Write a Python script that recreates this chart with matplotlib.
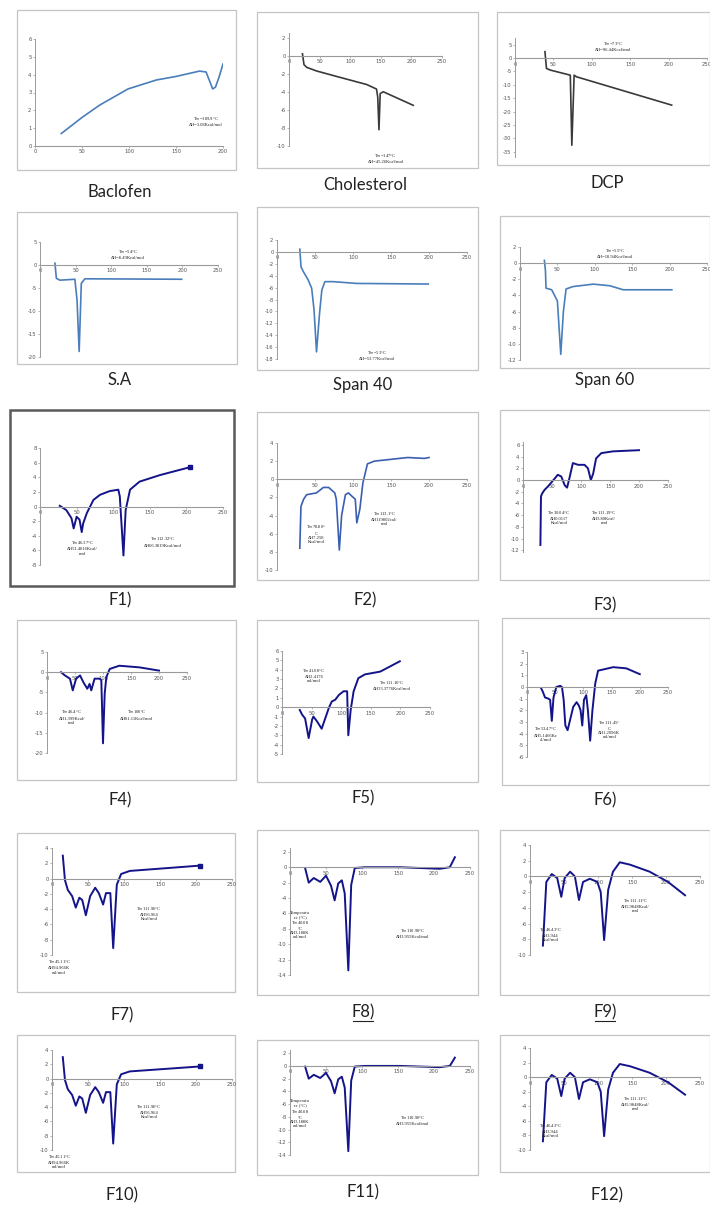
import matplotlib
matplotlib.use('Agg')
import matplotlib.pyplot as plt
from matplotlib.patches import Rectangle
from matplotlib.lines import Line2D

W, H = 710, 1209
fig = plt.figure(figsize=(7.1, 12.09), dpi=100)
fig.patch.set_facecolor('white')

# ---------------- data ----------------
captions = ["Baclofen", "Cholesterol", "DCP", "S.A", "Span 40", "Span 60",
            "F1)", "F2)", "F3)", "F4)", "F5)", "F6)",
            "F7)", "F8)", "F9)", "F10)", "F11)", "F12)"]

baclofen_x = [28, 50, 69, 99, 129, 150, 175, 182, 189, 192, 196, 200]
baclofen_y = [0.7, 1.6, 2.3, 3.2, 3.7, 3.9, 4.2, 4.15, 3.2, 3.3, 3.9, 4.6]

chol_x = [22, 24.5, 29, 45, 83, 127, 143, 145, 147, 149, 154, 203]
chol_y = [0.2, -1.0, -1.3, -1.7, -2.4, -3.2, -3.7, -4.6, -8.2, -4.2, -4.0, -5.5]

dcp_x = [39, 41, 46, 72, 74, 77, 80, 204]
dcp_y = [2.4, -3.9, -4.5, -6.4, -32.6, -6.4, -7.0, -17.6]

sa_x = [21, 23, 28, 49, 52, 55, 58, 63, 199]
sa_y = [0.4, -2.9, -3.3, -3.1, -7.6, -18.8, -4.0, -3.0, -3.1]

span40_x = [30, 31.6, 34.6, 41, 45.6, 48.7, 52, 56, 59, 63, 74, 105, 199]
span40_y = [0.45, -2.5, -3.3, -4.7, -6.1, -9.7, -16.8, -10.3, -6.4, -5.0, -5.0, -5.3, -5.4]

span60_x = [32.6, 34, 34.8, 42.4, 50, 54.5, 58, 61.6, 71, 98, 120, 138, 203]
span60_y = [0.34, -0.9, -3.1, -3.3, -4.7, -11.3, -6.0, -3.2, -2.9, -2.6, -2.8, -3.3, -3.3]

f1_x = [27, 36, 43, 46, 50, 54, 57, 59, 64, 73, 82, 95, 107, 109, 114, 117, 123, 136, 164, 202, 205]
f1_y = [0.1, -0.5, -1.6, -3.0, -1.4, -1.8, -3.5, -2.3, -0.9, 0.9, 1.6, 2.1, 2.3, 1.4, -6.7, -0.5, 2.3, 3.4, 4.3, 5.3, 5.4]

f2_x = [30, 31.5, 35, 39, 52, 61, 68, 76, 78, 82, 85, 90, 94, 99, 103, 105, 109, 113, 119, 128, 150, 172, 194, 200]
f2_y = [-7.6, -3.0, -2.2, -1.7, -1.5, -0.9, -0.9, -1.5, -2.2, -7.8, -4.0, -1.7, -1.5, -1.9, -2.2, -4.8, -3.3, -0.4, 1.7, 2.0, 2.2, 2.4, 2.3, 2.4]

f3_x = [30, 31, 33, 37, 43, 55, 60, 66, 72, 76, 80, 86, 95, 106, 112, 117, 121, 126, 135, 155, 200]
f3_y = [-11.1, -2.8, -2.3, -1.7, -1.1, 0.3, 0.9, 0.6, -0.9, -1.3, 0.3, 2.9, 2.6, 2.6, 2.0, 0.0, 1.1, 3.7, 4.6, 4.9, 5.1]

f4_x = [25, 32, 41, 46, 52, 59, 65, 72, 76, 79, 85, 94, 97, 100, 103, 106, 112, 129, 165, 200]
f4_y = [0, -0.8, -1.6, -4.5, -1.6, -0.8, -2.5, -4.1, -2.9, -4.5, -1.6, -1.6, -2.0, -17.6, -5.3, -1.2, 0.8, 1.6, 1.2, 0.4]

f5_x = [30, 34, 39, 45, 51, 53, 59, 67, 73, 79, 84, 90, 96, 104, 110, 112, 116, 121, 129, 140, 166, 199]
f5_y = [-0.3, -0.8, -1.2, -3.3, -1.3, -1.0, -1.5, -2.3, -1.2, -0.1, 0.6, 0.8, 1.3, 1.7, 1.7, -3.0, -0.3, 1.7, 3.1, 3.5, 3.8, 4.9]

f6_x = [25, 28, 32, 38, 41, 44, 47, 52, 59, 62, 65, 68, 72, 76, 82, 88, 92, 95, 98, 101, 105, 108, 112, 116, 121, 126, 153, 176, 200]
f6_y = [-0.1, -0.4, -0.9, -1.0, -1.1, -2.9, -0.9, 0.0, 0.1, 0.0, -1.1, -3.3, -3.7, -2.9, -1.7, -1.3, -1.6, -2.0, -3.3, -1.1, -0.7, -2.0, -4.6, -2.0, 0.3, 1.4, 1.7, 1.6, 1.1]

f7_x = [15, 18, 22, 28, 33, 38, 42, 47, 53, 60, 65, 71, 75, 81, 85, 90, 96, 108, 150, 206]
f7_y = [3.0, -0.2, -1.5, -2.3, -3.8, -2.5, -2.8, -4.8, -2.3, -1.2, -1.9, -3.4, -1.9, -1.9, -9.1, -0.8, 0.6, 1.0, 1.3, 1.7]

f8_x = [21, 26, 33, 42, 50, 57, 62, 67, 72, 76, 81, 85, 90, 104, 153, 208, 222, 229]
f8_y = [-0.1, -2.0, -1.4, -1.9, -1.1, -2.4, -4.3, -2.1, -1.7, -3.4, -13.4, -2.3, -0.1, 0.0, 0.0, -0.2, 0.0, 1.3]

f9_x = [19, 24, 32, 40, 46, 51, 59, 66, 72, 78, 88, 99, 104, 109, 115, 122, 132, 147, 176, 203, 228]
f9_y = [-8.8, -0.7, 0.3, -0.2, -2.6, -0.2, 0.6, 0.0, -3.0, -0.7, -0.3, -0.7, -2.0, -8.1, -1.7, 0.6, 1.8, 1.5, 0.6, -0.7, -2.4]

f10_x = [15, 18, 22, 28, 33, 38, 42, 47, 53, 60, 65, 71, 75, 81, 85, 90, 96, 108, 150, 206]
f10_y = [3.0, -0.2, -1.5, -2.3, -3.8, -2.5, -2.8, -4.8, -2.3, -1.2, -1.9, -3.4, -1.9, -1.9, -9.1, -0.8, 0.6, 1.0, 1.3, 1.7]

f11_x = [21, 26, 33, 42, 50, 57, 62, 67, 72, 76, 81, 85, 90, 104, 153, 208, 222, 229]
f11_y = [-0.1, -2.0, -1.4, -1.9, -1.1, -2.4, -4.3, -2.1, -1.7, -3.4, -13.4, -2.3, -0.1, 0.0, 0.0, -0.2, 0.0, 1.3]

f12_x = [19, 24, 32, 40, 46, 51, 59, 66, 72, 78, 88, 99, 104, 109, 115, 122, 132, 147, 176, 203, 228]
f12_y = [-8.8, -0.7, 0.3, -0.2, -2.6, -0.2, 0.6, 0.0, -3.0, -0.7, -0.3, -0.7, -2.0, -8.1, -1.7, 0.6, 1.8, 1.5, 0.6, -0.7, -2.4]

# tick values per panel
yt_baclofen = [0, 1, 2, 3, 4, 5, 6]
yt_chol = [2, 0, -2, -4, -6, -8, -10]
yt_dcp = [5, 0, -5, -10, -15, -20, -25, -30, -35]
yt_sa = [5, 0, -5, -10, -15, -20]
yt_span40 = [2, 0, -2, -4, -6, -8, -10, -12, -14, -16, -18]
yt_span60 = [2, 0, -2, -4, -6, -8, -10, -12]
yt_f1 = [8, 6, 4, 2, 0, -2, -4, -6, -8]
yt_f2 = [4, 2, 0, -2, -4, -6, -8, -10]
yt_f3 = [6, 4, 2, 0, -2, -4, -6, -8, -10, -12]
yt_f4 = [5, 0, -5, -10, -15, -20]
yt_f5 = [6, 5, 4, 3, 2, 1, 0, -1, -2, -3, -4, -5]
yt_f6 = [3, 2, 1, 0, -1, -2, -3, -4, -5, -6]
yt_f7 = [4, 2, 0, -2, -4, -6, -8, -10]
yt_f8 = [2, 0, -2, -4, -6, -8, -10, -12, -14]
yt_f9 = [4, 2, 0, -2, -4, -6, -8, -10]
xt_baclofen = [0, 50, 100, 150, 200]
xt_std = [0, 50, 100, 150, 200, 250]

# annotation texts
ann_baclofen = ["T$_m$=189.9°C\nΔH=3.08Kcal/mol"]
ann_chol = ["T$_m$=147°C\nΔH=45.26Kcal/mol"]
ann_dcp = ["T$_m$=73°C\nΔH=96.44Kcal/mol"]
ann_sa = ["T$_m$=54°C\nΔH=8.49Kcal/mol"]
ann_span40 = ["T$_m$=53°C\nΔH=53.77Kcal/mol"]
ann_span60 = ["T$_m$=55°C\nΔH=18.94Kcal/mol"]
ann_f1 = ["T$_m$46.37°C\nΔH51.4816Kcal/\nmol", "T$_m$112.32°C\nΔH66.3819Kcal/mol"]
ann_f2 = ["T$_m$78.80°\nC\nΔH7.258\nKcal/mol", "T$_m$113.1°C\nΔH119802cal/\nmol"]
ann_f3 = ["T$_m$30.04°C\nΔH0.0117\nKcal/mol", "T$_m$111.19°C\nΔH3.80Kcal/\nmol"]
ann_f4 = ["T$_m$46.4°C\nΔH1.399Kcal/\nmol", "T$_m$100°C\nΔH81.11Kcal/mol"]
ann_f5 = ["T$_m$41.08°C\nΔH2.4176\ncal/mol", "T$_m$111.16°C\nΔH33.3776Kcal/mol"]
ann_f6 = ["T$_m$53.47°C\nΔH5.1466Kc\nal/mol", "T$_m$111.45°\nC\nΔH1.2096K\ncal/mol"]
ann_f7 = ["T$_m$45.11°C\nΔH94.966K\ncal/mol", "T$_m$111.96°C\nΔH56.964\nKcal/mol"]
ann_f8 = ["Temperatu\nre (°C)\nT$_m$40.08\n°C\nΔH3.188K\ncal/mol", "T$_m$110.90°C\nΔH3.955Kcal/mol"]
ann_f9 = ["T$_m$46.43°C\nΔH3.944\nKcal/mol", "T$_m$111.11°C\nΔH5.9848Kcal/\nmol"]

# ---------------- layout (pixels) ----------------
def fr(x0, y0, x1, y1):
    return [x0 / W, 1 - y1 / H, (x1 - x0) / W, (y1 - y0) / H]

BLUE = '#4a7ebb'
GRAY = '#3a3a3a'
NAVY = '#14148a'

panels = [
    dict(box=(17, 10, 236, 170), ax=(35, 39, 223, 146), xlim=(0, 200), ylim=(0, 6), xt=xt_baclofen, yt=yt_baclofen,
         x=baclofen_x, y=baclofen_y, c=BLUE, cap=(120, 192), ann=ann_baclofen, annpos=[(182, 1.4)]),
    dict(box=(257, 12, 478, 168), ax=(289, 33, 442, 146), xlim=(0, 250), ylim=(-10, 2.5), xt=xt_std, yt=yt_chol,
         x=chol_x, y=chol_y, c=GRAY, cap=(365, 185), ann=ann_chol, annpos=[(158, -11.3)]),
    dict(box=(497, 12, 710, 165), ax=(515, 38, 707, 157), xlim=(0, 250), ylim=(-37, 7.5), xt=xt_std, yt=yt_dcp,
         x=dcp_x, y=dcp_y, c=GRAY, cap=(607, 183), ann=ann_dcp, annpos=[(128, 4.5)]),
    dict(box=(17, 212, 237, 364), ax=(40, 242, 218, 357), xlim=(0, 250), ylim=(-20, 5), xt=xt_std, yt=yt_sa,
         x=sa_x, y=sa_y, c=BLUE, cap=(120, 380), ann=ann_sa, annpos=[(124, 2.3)]),
    dict(box=(257, 207, 478, 370), ax=(277, 240, 467, 359), xlim=(0, 250), ylim=(-18, 2), xt=xt_std, yt=yt_span40,
         x=span40_x, y=span40_y, c=BLUE, cap=(363, 385), ann=ann_span40, annpos=[(131, -17.3)]),
    dict(box=(500, 216, 710, 368), ax=(520, 247, 707, 360), xlim=(0, 250), ylim=(-12, 2), xt=xt_std, yt=yt_span60,
         x=span60_x, y=span60_y, c=BLUE, cap=(605, 380), ann=ann_span60, annpos=[(127, 1.2)]),
    dict(box=(10, 410, 234, 586), ax=(40, 448, 223, 565), xlim=(0, 250), ylim=(-8, 8), xt=xt_std, yt=yt_f1,
         x=f1_x, y=f1_y, c=NAVY, cap=(120, 600), ann=ann_f1, annpos=[(58, -5.6), (168, -4.8)], dark=True, endmark=True),
    dict(box=(257, 412, 478, 580), ax=(277, 443, 467, 570), xlim=(0, 250), ylim=(-10, 4), xt=xt_std, yt=yt_f2,
         x=f2_x, y=f2_y, c='#3b5fb0', cap=(365, 600), ann=ann_f2, annpos=[(52, -6.0), (141, -4.3)]),
    dict(box=(500, 410, 710, 580), ax=(523, 442, 668, 552), xlim=(0, 250), ylim=(-12.3, 6.5), xt=xt_std, yt=yt_f3,
         x=f3_x, y=f3_y, c=NAVY, cap=(605, 605), ann=ann_f3, annpos=[(62, -6.3), (140, -6.3)]),
    dict(box=(17, 620, 236, 780), ax=(47, 652, 187, 753), xlim=(0, 250), ylim=(-20, 5), xt=xt_std, yt=yt_f4,
         x=f4_x, y=f4_y, c=NAVY, cap=(120, 800), ann=ann_f4, annpos=[(44, -11.0), (160, -10.5)]),
    dict(box=(257, 620, 478, 782), ax=(282, 651, 430, 754), xlim=(0, 250), ylim=(-5, 6), xt=xt_std, yt=yt_f5,
         x=f5_x, y=f5_y, c=NAVY, cap=(363, 798), ann=ann_f5, annpos=[(54, 3.4), (185, 2.4)]),
    dict(box=(502, 618, 710, 785), ax=(527, 652, 668, 757), xlim=(0, 250), ylim=(-6, 3), xt=xt_std, yt=yt_f6,
         x=f6_x, y=f6_y, c=NAVY, cap=(605, 800), ann=ann_f6, annpos=[(33, -4.0), (146, -3.6)]),
    dict(box=(17, 833, 235, 992), ax=(52, 848, 232, 955), xlim=(0, 250), ylim=(-10, 4), xt=xt_std, yt=yt_f7,
         x=f7_x, y=f7_y, c=NAVY, cap=(122, 1015), ann=ann_f7, annpos=[(10, -11.5), (135, -4.5)], endmark=True),
    dict(box=(257, 830, 478, 995), ax=(290, 848, 470, 975), xlim=(0, 250), ylim=(-14, 2.5), xt=xt_std, yt=yt_f8,
         x=f8_x, y=f8_y, c=NAVY, cap=(363, 1012), ann=ann_f8, annpos=[(14, -7.5), (170, -8.5)], uline=True),
    dict(box=(500, 830, 710, 995), ax=(530, 845, 700, 955), xlim=(0, 250), ylim=(-10, 4), xt=xt_std, yt=yt_f9,
         x=f9_x, y=f9_y, c=NAVY, cap=(605, 1012), ann=ann_f9, annpos=[(30, -7.3), (155, -3.6)], uline=True),
    dict(box=(17, 1035, 235, 1172), ax=(52, 1050, 232, 1150), xlim=(0, 250), ylim=(-10, 4), xt=xt_std, yt=yt_f7,
         x=f10_x, y=f10_y, c=NAVY, cap=(122, 1195), ann=ann_f7, annpos=[(10, -11.5), (135, -4.5)], endmark=True),
    dict(box=(257, 1040, 478, 1175), ax=(290, 1050, 470, 1155), xlim=(0, 250), ylim=(-14, 2.5), xt=xt_std, yt=yt_f8,
         x=f11_x, y=f11_y, c=NAVY, cap=(363, 1192), ann=ann_f8, annpos=[(14, -7.5), (170, -8.5)]),
    dict(box=(500, 1035, 710, 1172), ax=(530, 1048, 700, 1150), xlim=(0, 250), ylim=(-10, 4), xt=xt_std, yt=yt_f9,
         x=f12_x, y=f12_y, c=NAVY, cap=(607, 1195), ann=ann_f9, annpos=[(30, -7.3), (155, -3.6)]),
]

for i, p in enumerate(panels):
    bx0, by0, bx1, by1 = p['box']
    dark = p.get('dark', False)
    rect = Rectangle((bx0 / W, 1 - by1 / H), (bx1 - bx0) / W, (by1 - by0) / H,
                     transform=fig.transFigure, facecolor='none',
                     edgecolor='#5a5a5a' if dark else '#c4c4c4', lw=1.8 if dark else 0.9, zorder=-1)
    fig.patches.append(rect)

    ax = fig.add_axes(fr(*p['ax']))
    ax.set_facecolor('none')
    ax.plot(p['x'], p['y'], color=p['c'], lw=1.4 if p['c'] == NAVY else 1.2, solid_joinstyle='round')
    if p.get('endmark'):
        ax.plot(p['x'][-1:], p['y'][-1:], 's', color=p['c'], ms=2.2)
    ax.set_xlim(*p['xlim'])
    ax.set_ylim(*p['ylim'])
    ax.set_xticks(p['xt'])
    ax.set_yticks(p['yt'])
    ax.set_xticklabels([str(v) for v in p['xt']])
    ax.set_yticklabels([str(v) for v in p['yt']])
    for s in ['top', 'right']:
        ax.spines[s].set_visible(False)
    ax.spines['bottom'].set_position(('data', 0))
    ax.spines['bottom'].set_color('#9a9a9a')
    ax.spines['bottom'].set_linewidth(0.8)
    ax.spines['left'].set_color('#9a9a9a')
    ax.spines['left'].set_linewidth(0.7)
    ax.tick_params(axis='both', length=1.5, width=0.5, color='#9a9a9a', labelsize=3.8,
                   labelcolor='#555555', pad=1)
    for t, (tx, ty) in zip(p['ann'], p['annpos']):
        ax.text(tx, ty, t, fontsize=3.3, family='Liberation Serif', ha='center', va='center',
                linespacing=1.05, color='#222222', clip_on=False)
    cx, cy = p['cap']
    fig.text(cx / W, 1 - cy / H, captions[i], fontsize=12, family='Lato', color='#222222',
             ha='center', va='center')
    if p.get('uline'):
        fig.add_artist(Line2D([(cx - 10) / W, (cx + 10) / W], [1 - (cy + 9) / H] * 2,
                              color='#222222', lw=0.8, transform=fig.transFigure))

fig.savefig('out.png', dpi=100, facecolor='white')
